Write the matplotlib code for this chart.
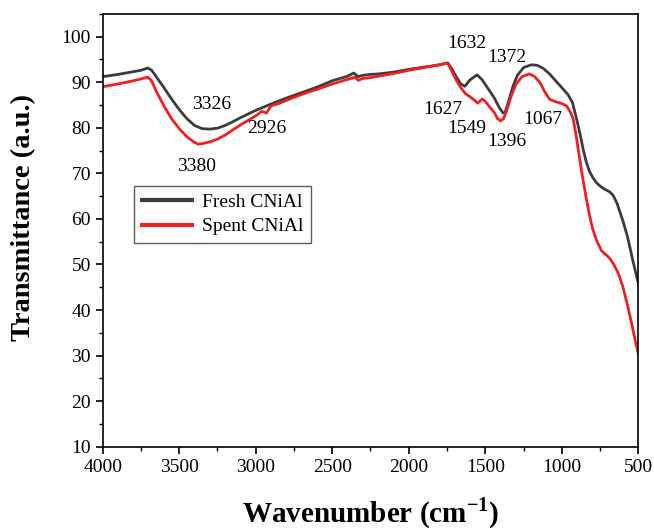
import matplotlib
matplotlib.use('Agg')
import matplotlib.pyplot as plt
from matplotlib.ticker import MultipleLocator

plt.rcParams['font.family'] = 'serif'
plt.rcParams['font.serif'] = ['Liberation Serif', 'DejaVu Serif']
plt.rcParams['mathtext.fontset'] = 'custom'
plt.rcParams['mathtext.rm'] = 'Liberation Serif'
plt.rcParams['mathtext.bf'] = 'Liberation Serif:bold'

# FTIR spectra, wavenumber (cm-1) vs transmittance (a.u.)
wn_fresh = [4000, 3900, 3800, 3750, 3705, 3680, 3650, 3600, 3550, 3500, 3450, 3400,
            3350, 3300, 3250, 3200, 3150, 3100, 3050, 3000, 2950, 2900, 2800, 2700,
            2600, 2500, 2400, 2360, 2330, 2300, 2250, 2200, 2100, 2000, 1900, 1800,
            1745, 1720, 1690, 1660, 1633, 1600, 1553, 1520, 1480, 1440, 1410, 1385,
            1372, 1350, 1320, 1290, 1250, 1200, 1160, 1120, 1080, 1040, 1000, 960,
            930, 900, 880, 860, 840, 820, 800, 775, 750, 720, 690, 665, 640, 620,
            600, 570, 540, 512, 500]
t_fresh = [91.2, 91.7, 92.3, 92.6, 93.1, 92.6, 91.2, 88.8, 86.3, 84.0, 82.0, 80.5,
           79.8, 79.7, 79.9, 80.5, 81.3, 82.2, 83.0, 83.8, 84.5, 85.2, 86.5, 87.7,
           88.9, 90.3, 91.3, 92.0, 91.2, 91.5, 91.7, 91.8, 92.2, 92.8, 93.3, 93.8,
           94.2, 93.0, 91.2, 89.6, 89.1, 90.5, 91.6, 90.5, 88.5, 86.5, 84.5, 83.3,
           83.2, 85.5, 89.0, 91.5, 93.2, 93.8, 93.7, 93.0, 91.8, 90.3, 88.8, 87.3,
           85.5, 81.5, 78.5, 75.2, 72.5, 70.5, 69.2, 68.0, 67.2, 66.5, 66.0, 65.2,
           63.5, 61.5, 59.5, 56.0, 51.5, 47.5, 46.0]

wn_spent = [4000, 3900, 3800, 3750, 3705, 3680, 3650, 3600, 3550, 3500, 3450, 3400,
            3376, 3350, 3300, 3250, 3200, 3150, 3100, 3050, 3000, 2960, 2930, 2900,
            2850, 2800, 2700, 2600, 2500, 2400, 2350, 2330, 2300, 2250, 2200, 2100,
            2000, 1900, 1800, 1745, 1720, 1690, 1660, 1627, 1600, 1570, 1549, 1520,
            1500, 1470, 1440, 1420, 1400, 1380, 1360, 1330, 1300, 1260, 1213, 1180,
            1140, 1110, 1078, 1040, 1000, 969, 945, 926, 905, 880, 861, 840, 820,
            800, 773, 740, 700, 686, 660, 630, 600, 570, 540, 515, 500]
t_spent = [89.0, 89.6, 90.3, 90.7, 91.1, 90.3, 88.0, 84.8, 82.0, 79.8, 78.0, 76.8,
           76.4, 76.5, 76.9, 77.5, 78.4, 79.5, 80.6, 81.6, 82.6, 83.6, 83.2, 84.8,
           85.3, 86.0, 87.3, 88.4, 89.6, 90.6, 91.1, 90.4, 90.8, 91.0, 91.3, 91.9,
           92.6, 93.2, 93.8, 94.2, 92.5, 90.5, 88.8, 87.4, 86.8, 86.0, 85.4, 86.3,
           85.8, 84.5, 83.3, 82.0, 81.5, 82.0, 83.8, 87.0, 89.5, 91.2, 91.8, 91.3,
           89.8, 87.8, 86.2, 85.7, 85.3, 84.8, 83.5, 82.0, 78.0, 72.5, 68.5, 64.5,
           61.0, 58.0, 55.3, 53.0, 51.8, 51.3, 50.0, 48.0, 45.0, 41.0, 36.5, 32.5,
           30.5]

# peak labels: text, x, y
peak_text = ['3326', '2926', '3380', '1632', '1372', '1627', '1549', '1396', '1067']
peak_x = [3288, 2929, 3386, 1622, 1361, 1775, 1622, 1361, 1122]
peak_y = [85.1, 79.9, 71.6, 98.5, 95.5, 83.9, 79.9, 76.9, 81.7]

fig = plt.figure(figsize=(6.54, 5.30), dpi=100)
ax = fig.add_axes([0.157, 0.157, 0.819, 0.817])

ax.plot(wn_fresh, t_fresh, color='#3c3c3c', lw=2, label='Fresh CNiAl')
ax.plot(wn_spent, t_spent, color='#ee2020', lw=2, label='Spent CNiAl')

for s, x, y in zip(peak_text, peak_x, peak_y):
    ax.text(x, y, s, fontsize=14, ha='center', va='center')

ax.set_xlim(4000, 500)
ax.set_ylim(10, 105)
ax.xaxis.set_major_locator(MultipleLocator(500))
ax.xaxis.set_minor_locator(MultipleLocator(250))
ax.yaxis.set_minor_locator(MultipleLocator(5))
ax.set_yticks(range(10, 101, 10))
ax.tick_params(which='major', direction='out', length=5, width=1.2, labelsize=14)
ax.tick_params(which='minor', direction='out', length=3, width=1.0)
for sp in ax.spines.values():
    sp.set_linewidth(1.2)

ax.set_xlabel(r'Wavenumber (cm$^{\mathbf{-1}}$)', fontsize=21, fontweight='bold',
              labelpad=14)
ax.set_ylabel('Transmittance (a.u.)', fontsize=20.5, fontweight='bold')
ax.yaxis.set_label_coords(-0.125, 0.529)

leg = ax.legend(loc='upper left', bbox_to_anchor=(0.058, 0.603), borderaxespad=0,
                fontsize=14, fancybox=False, edgecolor='#333333', handlelength=2.6,
                handletextpad=0.5, labelspacing=0.35, borderpad=0.4)
leg.get_frame().set_linewidth(1.0)
for line in leg.get_lines():
    line.set_linewidth(3)

fig.savefig('out.png', dpi=100)
